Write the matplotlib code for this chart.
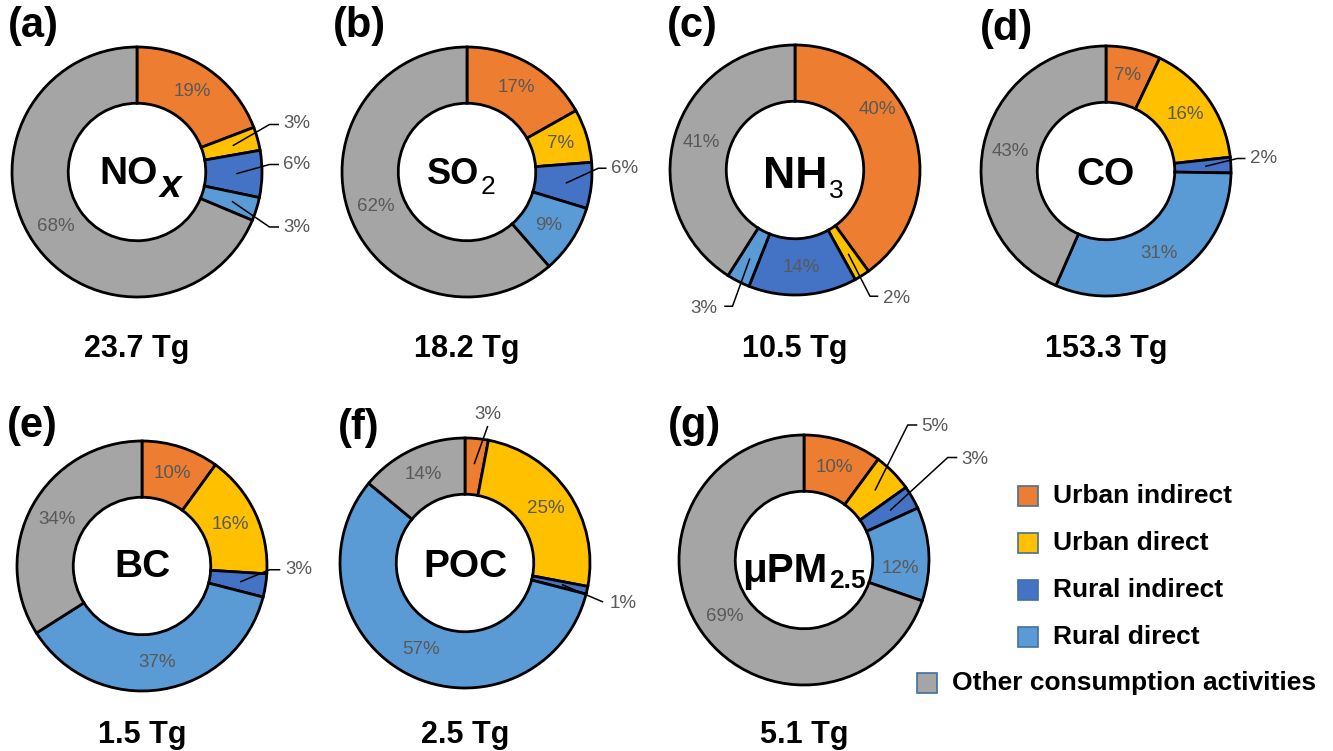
import numpy as np
import matplotlib
matplotlib.use('Agg')
import matplotlib.pyplot as plt
from matplotlib.patches import Rectangle

plt.rcParams['font.family'] = ['Liberation Sans', 'DejaVu Sans']

# --- data ---
categories = ['Urban indirect', 'Urban direct', 'Rural indirect', 'Rural direct',
              'Other consumption activities']
colors = ['#ED7D31', '#FFC000', '#4472C4', '#5B9BD5', '#A5A5A5']

panel_tags = ['(a)', '(b)', '(c)', '(d)', '(e)', '(f)', '(g)']
gas_main = ['NO', 'SO', 'NH', 'CO', 'BC', 'POC', 'μPM']
gas_sub = ['x', '2', '3', '', '', '', '2.5']
totals = ['23.7 Tg', '18.2 Tg', '10.5 Tg', '153.3 Tg', '1.5 Tg', '2.5 Tg', '5.1 Tg']

nox = [19, 3, 6, 3, 68]
so2 = [17, 7, 6, 9, 62]
nh3 = [40, 2, 14, 3, 41]
co = [7, 16, 2, 31, 43]
bc = [10, 16, 3, 37, 34]
poc = [3, 25, 1, 57, 14]
pm25 = [10, 5, 3, 12, 69]
shares = [nox, so2, nh3, co, bc, poc, pm25]

# --- layout (pixels, origin top-left) ---
W, H = 1333, 751
R = 125
centers = [(137, 172), (467, 172), (795, 170), (1106, 171),
           (142, 566), (465, 563), (804, 560)]
tag_pos = [(8, 37), (333, 37), (667, 37), (980, 40),
           (7, 437), (338, 439), (668, 437)]

# center label: main size, sub size, sub style, split x, main baseline, sub baseline (units of R)
gas_style = [
    (28, 28, dict(fontweight='bold', fontstyle='italic'), 0.17, -0.10, -0.20),
    (26, 19, dict(fontweight='normal'), 0.10, -0.10, -0.18),
    (32, 19, dict(fontweight='normal'), 0.26, -0.14, -0.22),
    (28, 0, None, 0.0, -0.11, 0),
    (28, 0, None, 0.0, -0.09, 0),
    (28, 0, None, 0.0, -0.11, 0),
    (29, 19, dict(fontweight='bold'), 0.19, -0.18, -0.22),
]

# labels placed outside the ring: wedge index -> (text pos, ha, leader points), units of R
outside = [
    {1: ((1.17, 0.39), 'left', [(1.06, 0.38), (1.13, 0.38)]),
     2: ((1.17, 0.06), 'left', [(1.06, 0.06), (1.13, 0.06)]),
     3: ((1.17, -0.44), 'left', [(1.06, -0.44), (1.13, -0.44)])},
    {2: ((1.15, 0.03), 'left', [(1.05, 0.03), (1.11, 0.03)])},
    {1: ((0.70, -1.03), 'left', [(0.60, -1.01), (0.66, -1.01)]),
     3: ((-0.62, -1.11), 'right', [(-0.50, -1.09), (-0.56, -1.09)])},
    {2: ((1.15, 0.10), 'left', [(1.05, 0.10), (1.11, 0.10)])},
    {2: ((1.15, -0.03), 'left', [(1.02, -0.03), (1.10, -0.03)])},
    {0: ((0.18, 1.19), 'center', [(0.18, 1.09)]),
     2: ((1.16, -0.32), 'left', [(1.10, -0.31)])},
    {1: ((0.94, 1.07), 'left', [(0.83, 1.08), (0.90, 1.08)]),
     2: ((1.26, 0.80), 'left', [(1.15, 0.82), (1.22, 0.82)])},
]
# a few inside labels that sit off the wedge's mid-angle
inside_nudge = {(2, 0): (0.66, 0.48), (6, 3): (0.77, -0.07)}

pct_color = '#595959'

fig = plt.figure(figsize=(13.33, 7.51), dpi=100)
ax = fig.add_axes([0, 0, 1, 1])

for i in range(len(shares)):
    cx, cy = centers[i]
    cy = H - cy
    wedges, _ = ax.pie(shares[i], colors=colors, startangle=90, counterclock=False,
                       radius=R, center=(cx, cy),
                       wedgeprops=dict(width=0.45 * R, edgecolor='black', linewidth=2))
    for j, w in enumerate(wedges):
        ang = np.deg2rad((w.theta1 + w.theta2) / 2)
        ux, uy = np.cos(ang), np.sin(ang)
        txt = f'{shares[i][j]}%'
        if j in outside[i]:
            (tx, ty), ha, pts = outside[i][j]
            xs = [cx + 0.8 * R * ux] + [cx + p[0] * R for p in pts]
            ys = [cy + 0.8 * R * uy] + [cy + p[1] * R for p in pts]
            ax.plot(xs, ys, color='black', lw=1.1)
            ax.text(cx + tx * R, cy + ty * R, txt, ha=ha, va='center',
                    fontsize=13.5, color=pct_color)
        else:
            lx, ly = inside_nudge.get((i, j), (0.78 * ux, 0.78 * uy))
            ax.text(cx + lx * R, cy + ly * R, txt, ha='center', va='center',
                    fontsize=13.5, color=pct_color)

    # gas name in the hole
    msize, ssize, sstyle, split, mbase, sbase = gas_style[i]
    if gas_sub[i]:
        ax.text(cx + split * R, cy + mbase * R, gas_main[i], ha='right', va='baseline',
                fontsize=msize, fontweight='bold')
        ax.text(cx + (split + 0.01) * R, cy + sbase * R, gas_sub[i], ha='left',
                va='baseline', fontsize=ssize, **sstyle)
    else:
        ax.text(cx, cy + mbase * R, gas_main[i], ha='center', va='baseline',
                fontsize=msize, fontweight='bold')

    # total below the ring
    ty_tot = 357 if i < 4 else 743
    ax.text(cx, H - ty_tot, totals[i], ha='center', va='baseline',
            fontsize=22, fontweight='bold')

    # panel tag
    px, py = tag_pos[i]
    ax.text(px, H - py, panel_tags[i], ha='left', va='baseline',
            fontsize=30, fontweight='bold')

# legend drawn by hand (last entry sits further left)
leg_pos = [(1018, 496), (1018, 543), (1018, 590), (1018, 637), (917, 683)]
for k, name in enumerate(categories):
    lx, ly = leg_pos[k]
    ax.add_patch(Rectangle((lx, H - ly - 10), 20, 20, facecolor=colors[k],
                           edgecolor='#41719C', lw=1.2))
    ax.text(lx + 35, H - ly, name, ha='left', va='center',
            fontsize=19, fontweight='bold')

ax.set_xlim(0, W)
ax.set_ylim(0, H)
ax.axis('off')

fig.savefig('out.png', dpi=100)
